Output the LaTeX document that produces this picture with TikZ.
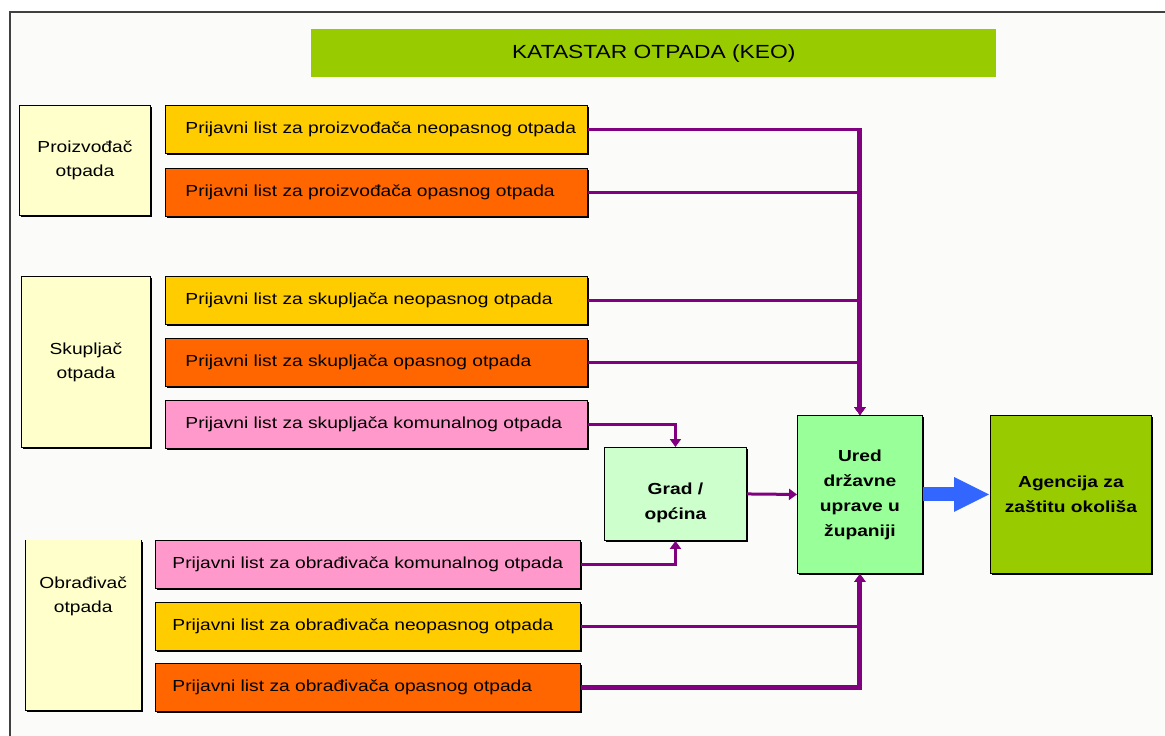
\documentclass[tikz,border=0pt]{standalone}
\usepackage{fontspec}
\setmainfont{Liberation Sans}[FakeStretch=1.2]
\usetikzlibrary{arrows.meta,shadows}
\definecolor{ttlgreen}{HTML}{99CC00}
\definecolor{ryellow}{HTML}{FFCC00}
\definecolor{rorange}{HTML}{FF6600}
\definecolor{rpink}{HTML}{FF99CC}
\definecolor{lyellow}{HTML}{FFFFCC}
\definecolor{gradgreen}{HTML}{CCFFCC}
\definecolor{uredgreen}{HTML}{99FF99}
\definecolor{purp}{HTML}{800080}
\definecolor{bluearr}{HTML}{3366FF}
\definecolor{pagebg}{HTML}{FBFCFA}
\newcommand\rowlbl[3]{\makebox[#1][l]{\hspace{#2}#3}}
\begin{document}
\begin{tikzpicture}[x=1pt,y=-1pt,
  box/.style={draw=black, line width=0.9pt, rectangle, anchor=north west, inner sep=0pt,
    drop shadow={shadow xshift=1.5pt,shadow yshift=-1.5pt,fill=black,opacity=1}},
  rowbox/.style={box, minimum height=48pt, font=\fontsize{16}{20}\selectfont},
  sidebox/.style={box, fill=lyellow, align=center, font=\fontsize{16}{24}\selectfont},
  boldbox/.style={box, align=center, font=\bfseries\fontsize{16}{25}\selectfont},
  pline/.style={draw=purp, line width=#1, -{Triangle[length=8pt,width=11pt]}},
  bigarrow/.style={draw=bluearr, line width=14pt, -{Triangle[length=36pt,width=32pt]}}
]
\useasboundingbox (0,0) rectangle (1165,736);
\fill[white] (0,0) rectangle (1165,736);
\fill[pagebg] (10,12) rectangle (1165,736);
\draw[black!75, line width=1.5pt] (1165,12) -- (10,12) -- (10,736);

% title
\node[fill=ttlgreen, anchor=north west, minimum width=685pt, minimum height=48pt, inner sep=0pt,
  font=\fontsize{19}{22}\selectfont] (title) at (311,29) {KATASTAR OTPADA (KEO)};

% left group boxes
\node[sidebox, minimum width=131pt, minimum height=110pt] (proiz) at (19,105) {Proizvođač\\otpada};
\node[sidebox, minimum width=129pt, minimum height=171pt] (skup) at (21,276) {Skupljač\\otpada};
\node[fill=lyellow, anchor=north west, inner sep=0pt, minimum width=116pt, minimum height=170pt,
  drop shadow={shadow xshift=1.5pt,shadow yshift=-1.5pt,fill=black,opacity=1},
  label={[anchor=north, align=center, yshift=-33pt, font=\fontsize{16}{24}\selectfont]north:Obrađivač\\otpada}] (obr) at (25,540) {};
\draw[black, line width=0.9pt] (obr.north west) -- (obr.south west) -- (obr.south east) -- (obr.north east);

% report rows
\node[rowbox, fill=ryellow] (r1) at (165,105) {\rowlbl{422pt}{20pt}{Prijavni list za proizvođača neopasnog otpada}};
\node[rowbox, fill=rorange] (r2) at (165,168) {\rowlbl{422pt}{20pt}{Prijavni list za proizvođača opasnog otpada}};
\node[rowbox, fill=ryellow] (r3) at (165,276) {\rowlbl{422pt}{20pt}{Prijavni list za skupljača neopasnog otpada}};
\node[rowbox, fill=rorange] (r4) at (165,338) {\rowlbl{422pt}{20pt}{Prijavni list za skupljača opasnog otpada}};
\node[rowbox, fill=rpink] (r5) at (165,400) {\rowlbl{422pt}{20pt}{Prijavni list za skupljača komunalnog otpada}};
\node[rowbox, fill=rpink] (r6) at (155,540) {\rowlbl{425pt}{17pt}{Prijavni list za obrađivača komunalnog otpada}};
\node[rowbox, fill=ryellow] (r7) at (155,602) {\rowlbl{425pt}{17pt}{Prijavni list za obrađivača neopasnog otpada}};
\node[rowbox, fill=rorange] (r8) at (155,663) {\rowlbl{425pt}{17pt}{Prijavni list za obrađivača opasnog otpada}};

% right boxes
\node[boldbox, fill=gradgreen, minimum width=142pt, minimum height=93pt,
  label={[anchor=center, align=center, yshift=-9pt, font=\bfseries\fontsize{16}{25}\selectfont]center:Grad /\\općina}] (grad) at (604,447) {};
\node[boldbox, fill=uredgreen, minimum width=125pt, minimum height=158pt] (ured) at (797,415) {Ured\\državne\\uprave u\\županiji};
\node[boldbox, fill=ttlgreen, minimum width=161pt, minimum height=158pt] (agen) at (990,415) {Agencija za\\zaštitu okoliša};

% connectors
\draw[pline=2.5pt] (r3.east) -| (ured.north);
\draw[pline=2.5pt] (r4.east) -| (ured.north);
\draw[pline=3.5pt] (r2.east) -| (ured.north);
\draw[pline=3.5pt] (r1.east) -| (ured.north);
\draw[pline=5pt] (r1.east -| ured.north) -- (ured.north);
\draw[pline=3pt] (r5.east) -| (grad.north);
\draw[pline=3pt] (r6.east) -| (grad.south);
\draw[pline=3pt] (grad.east) -- (ured.west);
\draw[pline=3pt] (r7.east) -| (ured.south);
\draw[pline=5pt] (r8.east) -| (ured.south);
\draw[bigarrow] (ured.east) -- (agen.west);
\end{tikzpicture}
\end{document}
